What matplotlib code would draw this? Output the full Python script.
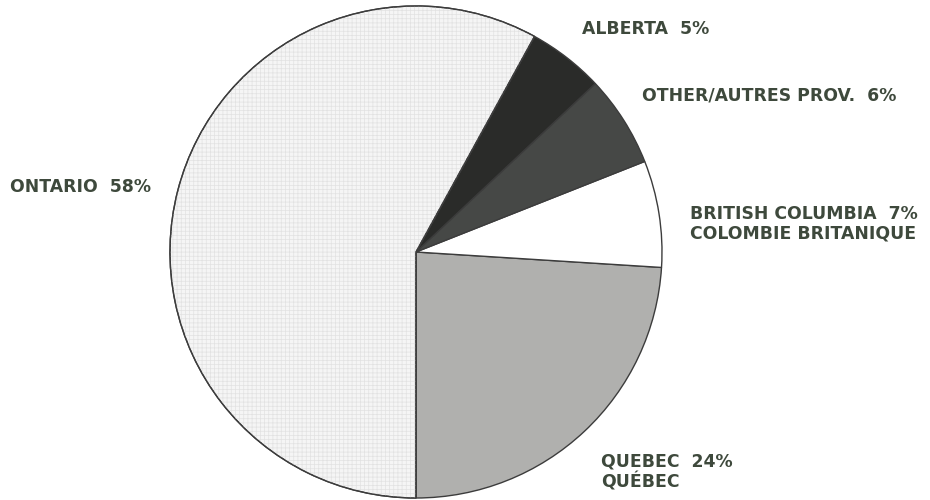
import matplotlib.pyplot as plt
from matplotlib.patches import Wedge

# provinces, in drawing order (counter-clockwise from the bottom)
provinces = ["QUEBEC", "BRITISH COLUMBIA", "OTHER/AUTRES PROV.", "ALBERTA", "ONTARIO"]
shares = [24, 7, 6, 5, 58]
labels = [
    "QUEBEC  24%\nQUÉBEC",
    "BRITISH COLUMBIA  7%\nCOLOMBIE BRITANIQUE",
    "OTHER/AUTRES PROV.  6%",
    "ALBERTA  5%",
    "ONTARIO  58%",
]
colors = ["#b0b0ae", "#ffffff", "#464846", "#2a2b29", "#f5f5f5"]

# label anchor points in pixels (x from left, y from top), left aligned
label_pos = [(601, 472), (690, 224), (642, 96), (582, 29), (10, 187)]

plt.rcParams["hatch.linewidth"] = 0.5

fig = plt.figure(figsize=(9.3, 5), dpi=100)
ax = fig.add_axes([0, 0, 1, 1])

cx, cy, r = 416, 500 - 252, 246
wedges, _ = ax.pie(shares, colors=colors, startangle=-90, counterclock=True,
                   center=(cx, cy), radius=r,
                   wedgeprops=dict(edgecolor="#3c3c3c", linewidth=1.0))

# faint grid texture on the Ontario slice
ont = wedges[4]
ax.add_patch(Wedge((cx, cy), r, ont.theta1, ont.theta2, fill=False,
                   hatch="++++", edgecolor="#e2e2e2", linewidth=0))
ax.add_patch(Wedge((cx, cy), r, ont.theta1, ont.theta2, fill=False,
                   edgecolor="#3c3c3c", linewidth=1.0))

for text, (px, py) in zip(labels, label_pos):
    ax.text(px, 500 - py, text, ha="left", va="center", fontsize=12.4,
            fontweight="bold", family="DejaVu Sans", color="#3e493c",
            linespacing=1.1)

ax.set_aspect("auto")
ax.set_xlim(0, 930)
ax.set_ylim(0, 500)
ax.axis("off")

fig.savefig("out.png", dpi=100, facecolor="white")
